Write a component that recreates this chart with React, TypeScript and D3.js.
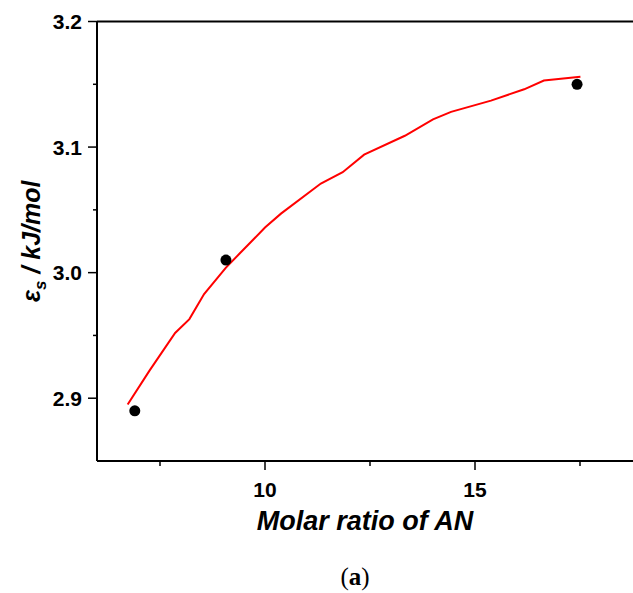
import React from "react";
import * as d3 from "d3";

const lineX = [6.73, 7.25, 7.86, 8.2, 8.55, 9.07, 9.39, 9.74, 10.0, 10.38, 11.33, 11.85, 12.36, 13.33, 14.0, 14.43, 15.38, 16.17, 16.64, 17.51];
const lineY = [2.895, 2.922, 2.952, 2.963, 2.983, 3.004, 3.015, 3.027, 3.036, 3.047, 3.071, 3.08, 3.094, 3.109, 3.122, 3.128, 3.137, 3.146, 3.153, 3.156];
const pointX = [6.9, 9.07, 17.43];
const pointY = [2.89, 3.01, 3.15];
const xMajorTicks = [10, 15];
const xMinorTicks = [7.5, 12.5, 17.5];
const yMajorTicks = [2.9, 3.0, 3.1, 3.2];
const yMinorTicks = [2.95, 3.05, 3.15];

const W = 633;
const H = 593;

export default function App() {
  const left = 97;
  const top = 21.5;
  const bottom = 461;
  const x = d3.scaleLinear().domain([6, 18]).range([left, left + 12 * 42]);
  const y = d3.scaleLinear().domain([2.85, 3.2]).range([bottom, top]);
  const line = d3
    .line<number>()
    .x((_, i) => x(lineX[i]))
    .y((d) => y(d));
  const tickFont = "'Liberation Sans', Arial, sans-serif";
  return (
    <svg
      width={W}
      height={H}
      style={{ position: "absolute", left: 0, top: 0, background: "#fff" }}
    >
      <rect x={0} y={0} width={W} height={H} fill="#fff" />
      {/* axes */}
      <line x1={left} x2={W} y1={top} y2={top} stroke="#000" strokeWidth={2} />
      <line x1={left} x2={W} y1={bottom} y2={bottom} stroke="#000" strokeWidth={2} />
      <line x1={left} x2={left} y1={top} y2={bottom} stroke="#000" strokeWidth={2} />
      {yMajorTicks.map((t) => (
        <g key={"ym" + t}>
          <line x1={left - 9} x2={left} y1={y(t)} y2={y(t)} stroke="#000" strokeWidth={1.5} />
          <text
            x={left - 15}
            y={y(t)}
            dy="0.36em"
            textAnchor="end"
            fontFamily={tickFont}
            fontWeight="bold"
            fontSize={21}
          >
            {t.toFixed(1)}
          </text>
        </g>
      ))}
      {yMinorTicks.map((t) => (
        <line key={"yn" + t} x1={left - 4} x2={left} y1={y(t)} y2={y(t)} stroke="#000" strokeWidth={1.5} />
      ))}
      {xMajorTicks.map((t) => (
        <g key={"xm" + t}>
          <line x1={x(t)} x2={x(t)} y1={bottom} y2={bottom + 9} stroke="#000" strokeWidth={1.5} />
          <text
            x={x(t)}
            y={497}
            textAnchor="middle"
            fontFamily={tickFont}
            fontWeight="bold"
            fontSize={21}
          >
            {t}
          </text>
        </g>
      ))}
      {xMinorTicks.map((t) => (
        <line key={"xn" + t} x1={x(t)} x2={x(t)} y1={bottom} y2={bottom + 5} stroke="#000" strokeWidth={1.5} />
      ))}
      {/* curve */}
      <path d={line(lineY) || ""} fill="none" stroke="#ff0000" strokeWidth={2} />
      {pointX.map((px, i) => (
        <circle key={"p" + i} cx={x(px)} cy={y(pointY[i])} r={5.5} fill="#000" />
      ))}
      {/* axis titles */}
      <text
        x={365}
        y={530}
        textAnchor="middle"
        fontFamily={tickFont}
        fontWeight="bold"
        fontStyle="italic"
        fontSize={27}
      >
        Molar ratio of AN
      </text>
      <text
        transform={`translate(40, ${(top + bottom) / 2}) rotate(-90)`}
        textAnchor="middle"
        fontFamily={tickFont}
        fontWeight="bold"
        fontStyle="italic"
        fontSize={25}
      >
        ε<tspan fontSize={17} dy={6}>s</tspan>
        <tspan dy={-6}> / kJ/mol</tspan>
      </text>
      <text
        x={355}
        y={585}
        textAnchor="middle"
        fontFamily="'Liberation Serif', 'DejaVu Serif', serif"
        fontSize={25}
      >
        (<tspan fontWeight="bold">a</tspan>)
      </text>
    </svg>
  );
}
